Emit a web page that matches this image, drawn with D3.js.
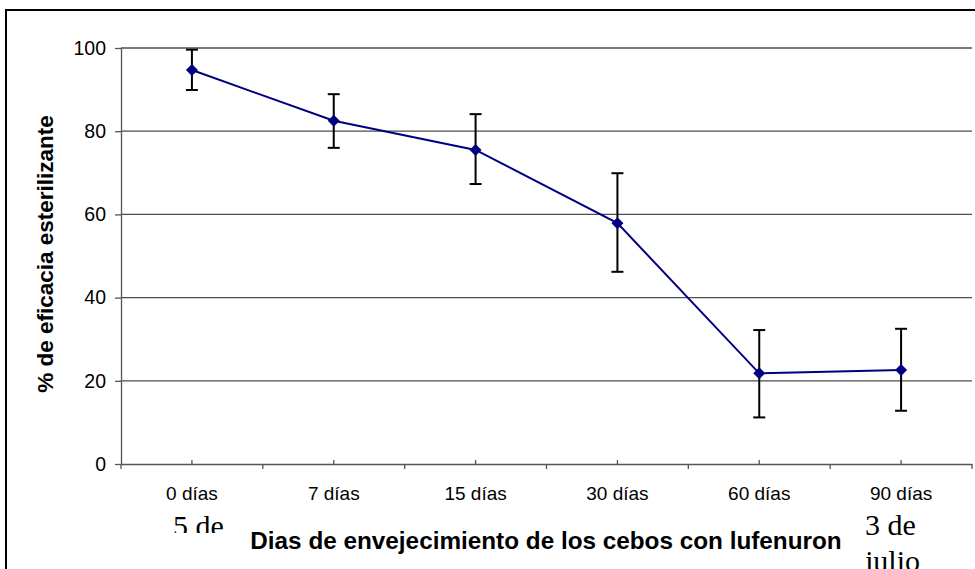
<!DOCTYPE html>
<html>
<head>
<meta charset="utf-8">
<script src="https://d3js.org/d3.v7.min.js"></script>
<style>
  body { margin: 0; background: #fff; }
  svg { display: block; font-family: "Liberation Sans", Arial, sans-serif; }
</style>
</head>
<body>
<svg id="chart" width="975" height="569"></svg>
<script>
// data
var categories = ["0 días", "7 días", "15 días", "30 días", "60 días", "90 días"];
var means  = [94.7, 82.5, 75.5, 57.9, 21.8, 22.6];
var upper  = [99.6, 88.9, 84.1, 69.9, 32.2, 32.5];
var lower  = [89.9, 76.0, 67.3, 46.2, 11.2, 12.8];
var yTicks = [0, 20, 40, 60, 80, 100];

var svg = d3.select("#chart");
var margin = { top: 48, right: 3, bottom: 105, left: 121 };
var W = +svg.attr("width"), H = +svg.attr("height");

var x = d3.scaleBand().domain(categories).range([margin.left, W - margin.right]).padding(0);
var y = d3.scaleLinear().domain([0, 100]).range([H - margin.bottom, margin.top]);

// outer frame (only left/top visible)
svg.append("rect")
  .attr("x", 6).attr("y", 10)
  .attr("width", 1000).attr("height", 600)
  .attr("fill", "none").attr("stroke", "#000").attr("stroke-width", 2);

// gridlines
svg.append("g").selectAll("line")
  .data(yTicks.filter(function(d) { return d > 0; }))
  .enter().append("line")
    .attr("x1", x.range()[0]).attr("x2", x.range()[1])
    .attr("y1", function(d) { return y(d); })
    .attr("y2", function(d) { return y(d); })
    .attr("stroke", "#4d4d4d").attr("stroke-width", 1.3);

// y axis
var yAxis = svg.append("g")
  .attr("transform", "translate(" + margin.left + ",0)")
  .call(d3.axisLeft(y).tickValues(yTicks).tickSize(6).tickPadding(9).tickSizeOuter(0));
yAxis.select(".domain").attr("stroke", "#555").attr("stroke-width", 1.3);
yAxis.selectAll(".tick line").attr("stroke", "#555").attr("stroke-width", 1.3);
yAxis.selectAll(".tick text").attr("font-size", "19.5px").attr("fill", "#000")
  .attr("font-family", "Liberation Sans, Arial, sans-serif");

// x axis
var xAxis = svg.append("g")
  .attr("transform", "translate(0," + y(0) + ")")
  .call(d3.axisBottom(x).tickSize(-4).tickPadding(23).tickSizeOuter(0));
xAxis.select(".domain").attr("stroke", "#555").attr("stroke-width", 1.5);
xAxis.selectAll(".tick line").attr("stroke", "#555").attr("stroke-width", 1.3);
xAxis.selectAll(".tick text").attr("font-size", "19px").attr("fill", "#000")
  .attr("font-family", "Liberation Sans, Arial, sans-serif");

// category boundary ticks (outward)
var bounds = categories.map(function(c) { return x(c); }).concat([x(categories[categories.length - 1]) + x.bandwidth()]);
xAxis.append("g").selectAll("line")
  .data(bounds)
  .enter().append("line")
    .attr("x1", function(d) { return d; }).attr("x2", function(d) { return d; })
    .attr("y1", 0).attr("y2", 5)
    .attr("stroke", "#555").attr("stroke-width", 1.3);

var cx = function(i) { return x(categories[i]) + x.bandwidth() / 2; };

// error bars
var eb = svg.append("g").attr("stroke", "#000").attr("stroke-width", 2);
categories.forEach(function(c, i) {
  eb.append("line").attr("x1", cx(i)).attr("x2", cx(i)).attr("y1", y(upper[i])).attr("y2", y(lower[i]));
  eb.append("line").attr("x1", cx(i) - 6).attr("x2", cx(i) + 6).attr("y1", y(upper[i])).attr("y2", y(upper[i]));
  eb.append("line").attr("x1", cx(i) - 6).attr("x2", cx(i) + 6).attr("y1", y(lower[i])).attr("y2", y(lower[i]));
});

// line
var line = d3.line()
  .x(function(d, i) { return cx(i); })
  .y(function(d) { return y(d); });

svg.append("path")
  .datum(means)
  .attr("d", line)
  .attr("fill", "none")
  .attr("stroke", "#000080")
  .attr("stroke-width", 2);

// diamond markers
svg.append("g").selectAll("path")
  .data(means)
  .enter().append("path")
    .attr("transform", function(d, i) { return "translate(" + cx(i) + "," + y(d) + ")"; })
    .attr("d", "M0,-6L6,0L0,6L-6,0Z")
    .attr("fill", "#000080");

// axis titles
svg.append("text")
  .attr("transform", "translate(53,254) rotate(-90)")
  .attr("text-anchor", "middle")
  .attr("font-size", "22.5px").attr("font-weight", "bold")
  .text("% de eficacia esterilizante");

svg.append("text")
  .attr("x", 546).attr("y", 549)
  .attr("text-anchor", "middle")
  .attr("font-size", "24.3px").attr("font-weight", "bold")
  .text("Dias de envejecimiento de los cebos con lufenuron");

// stray serif fragments
var clip = svg.append("defs").append("clipPath").attr("id", "cut5");
clip.append("rect").attr("x", 150).attr("y", 500).attr("width", 100).attr("height", 33);

svg.append("text")
  .attr("x", 173).attr("y", 536)
  .attr("clip-path", "url(#cut5)")
  .attr("font-family", "Liberation Serif, Times New Roman, serif")
  .attr("font-size", "30px")
  .text("5 de");

svg.append("text")
  .attr("x", 865).attr("y", 535)
  .attr("font-family", "Liberation Serif, Times New Roman, serif")
  .attr("font-size", "30px")
  .text("3 de");

svg.append("text")
  .attr("x", 865).attr("y", 571)
  .attr("font-family", "Liberation Serif, Times New Roman, serif")
  .attr("font-size", "30px")
  .text("julio");
</script>
</body>
</html>
